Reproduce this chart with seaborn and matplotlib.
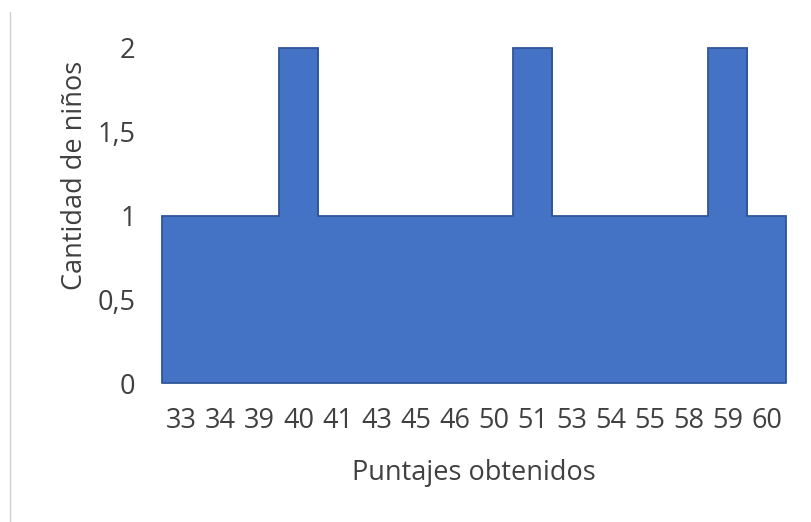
import matplotlib
matplotlib.use("Agg")
import matplotlib.pyplot as plt
from matplotlib.lines import Line2D
import numpy as np
import seaborn as sns
import pandas as pd

# Scores obtained and how many children got each one
puntajes = ["33", "34", "39", "40", "41", "43", "45", "46",
            "50", "51", "53", "54", "55", "58", "59", "60"]
cantidad = [1, 1, 1, 2, 1, 1, 1, 1, 1, 2, 1, 1, 1, 1, 2, 1]
y_ticks = [0, 0.5, 1, 1.5, 2]
y_tick_labels = ["0", "0,5", "1", "1,5", "2"]

sns.set_theme(style="white")
plt.rcParams["font.family"] = ["Open Sans", "DejaVu Sans"]

df = pd.DataFrame({"Puntaje": puntajes, "Cantidad": cantidad})

fig = plt.figure(figsize=(8.12, 5.22), dpi=100)
ax = fig.add_axes([162 / 812, 1 - 383 / 522, 624 / 812, 335 / 522])

fill = "#4472C4"
edge = "#2F5597"
sns.barplot(data=df, x="Puntaje", y="Cantidad", order=puntajes,
            color=fill, saturation=1, width=1.0,
            edgecolor=fill, linewidth=0.6, ax=ax)

# outline of the joined bars as one stepped shape
edges = np.arange(len(cantidad) + 1) - 0.5
ax.stairs(cantidad, edges, baseline=0, fill=False, color=edge,
          linewidth=1.3, clip_on=False, zorder=3)
ax.plot([edges[0], edges[-1]], [0, 0], color=edge, linewidth=1.3,
        clip_on=False, zorder=3)

ax.set_xlim(-0.5, len(puntajes) - 0.5)
ax.set_ylim(0, 2)
ax.set_yticks(y_ticks)
ax.set_yticklabels(y_tick_labels)

text_color = "#404040"
fs = 19.5
ax.tick_params(axis="y", length=0, pad=19, labelsize=fs, labelcolor=text_color)
ax.tick_params(axis="x", length=0, pad=17, labelsize=fs, labelcolor=text_color)

ax.set_xlabel("Puntajes obtenidos", fontsize=fs, color=text_color)
ax.set_ylabel("Cantidad de niños", fontsize=fs, color=text_color)
ax.xaxis.set_label_coords(0.5, -0.227)
ax.yaxis.set_label_coords(-0.117, 0.621)

for side in ax.spines.values():
    side.set_visible(False)

# thin frame line along the left edge of the figure
fig.add_artist(Line2D([10 / 812, 10 / 812], [0, 1 - 12 / 522],
                      transform=fig.transFigure, color="#D0D0D0", linewidth=1))

fig.savefig("out.png", dpi=100)
